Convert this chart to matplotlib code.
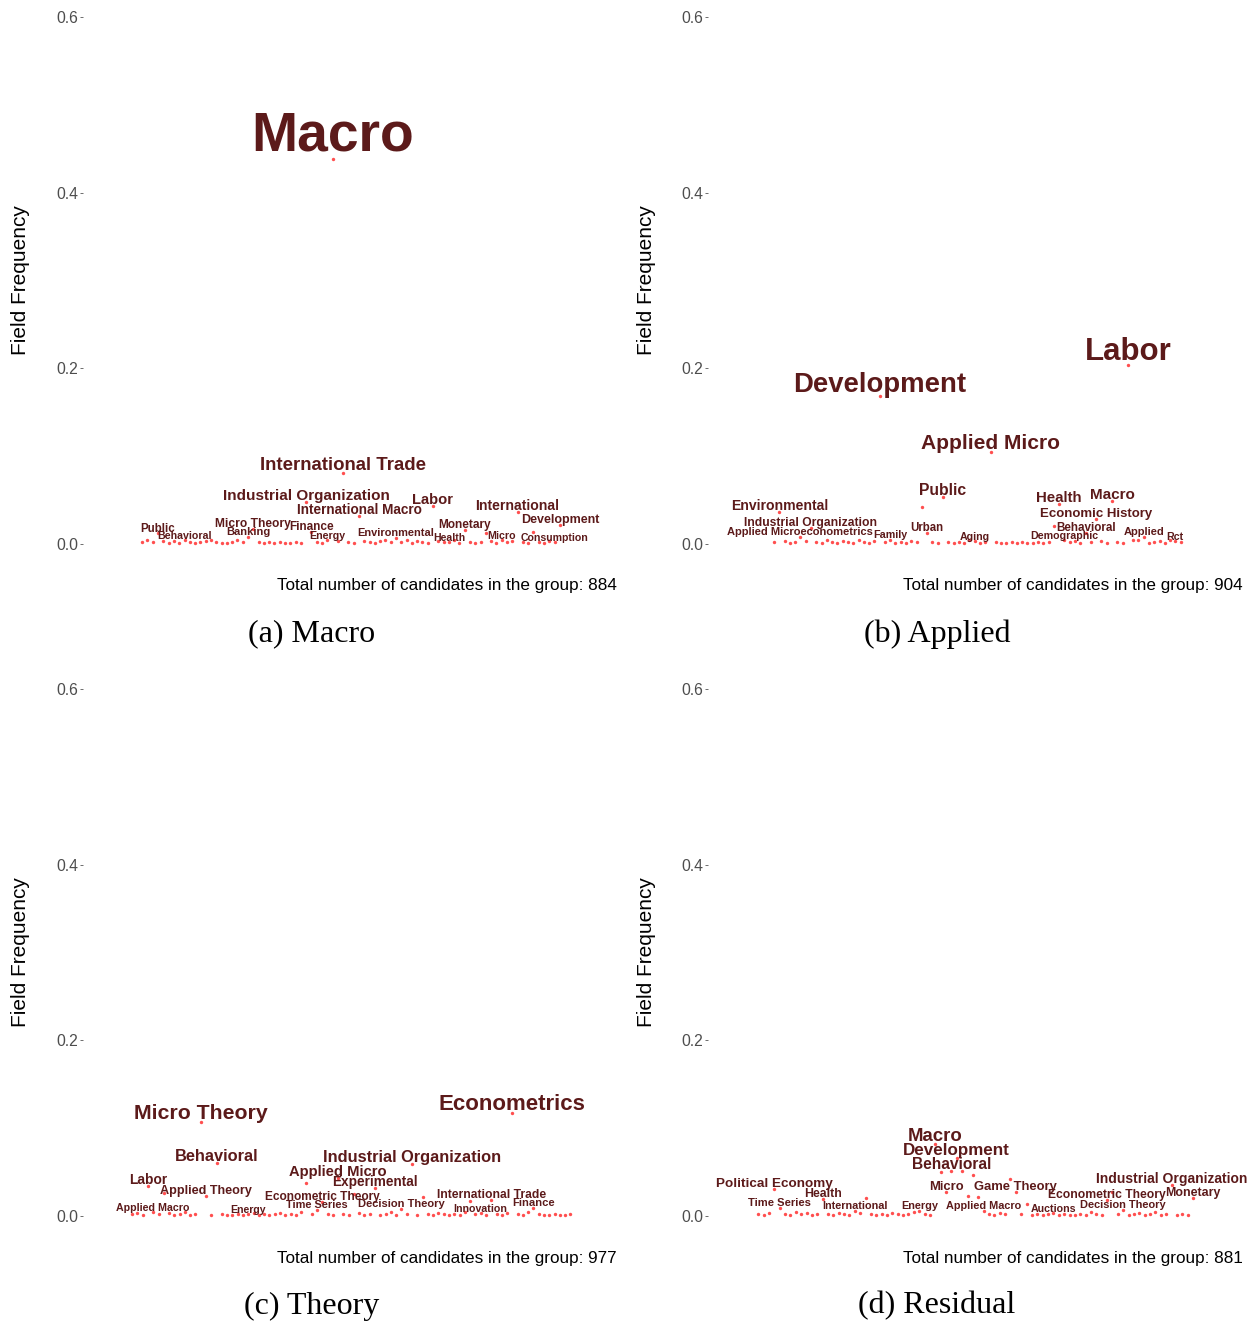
import matplotlib
matplotlib.use("Agg")
import matplotlib.pyplot as plt

# field frequencies in plotting order (x = field index), one list per group
a_freq = [0.002, 0.004, 0.002, 0.012, 0.003, 0.001, 0.003, 0.001, 0.004, 0.002,
          0.001, 0.002, 0.003, 0.005, 0.002, 0.001, 0.001, 0.002, 0.004, 0.002,
          0.008, 0.017, 0.002, 0.001, 0.002, 0.001, 0.002, 0.001, 0.001, 0.002,
          0.001, 0.048, 0.014, 0.002, 0.001, 0.004, 0.438, 0.003, 0.081, 0.002,
          0.001, 0.032, 0.003, 0.002, 0.001, 0.003, 0.005, 0.002, 0.007, 0.002,
          0.004, 0.001, 0.003, 0.002, 0.001, 0.043, 0.003, 0.002, 0.002, 0.004,
          0.001, 0.016, 0.002, 0.001, 0.002, 0.012, 0.003, 0.001, 0.004, 0.002,
          0.003, 0.036, 0.002, 0.001, 0.014, 0.002, 0.001, 0.003, 0.002, 0.022]
a_label_idx = [3, 8, 20, 21, 31, 32, 35, 36, 38, 41, 48, 55, 58, 61, 68, 71, 78, 79]
a_label_txt = ["Public", "Behavioral", "Banking", "Micro Theory", "Industrial Organization",
               "Finance", "Energy", "Macro", "International Trade", "International Macro",
               "Environmental", "Labor", "Health", "Monetary", "Micro", "International",
               "Consumption", "Development"]

b_freq = [0.002, 0.036, 0.003, 0.001, 0.002, 0.008, 0.003, 0.018, 0.002, 0.001,
          0.004, 0.002, 0.001, 0.003, 0.002, 0.001, 0.004, 0.002, 0.001, 0.003,
          0.168, 0.002, 0.005, 0.001, 0.002, 0.001, 0.003, 0.002, 0.042, 0.0125,
          0.002, 0.001, 0.0535, 0.002, 0.001, 0.002, 0.001, 0.004, 0.003, 0.001,
          0.002, 0.105, 0.002, 0.001, 0.001, 0.002, 0.001, 0.002, 0.001, 0.001,
          0.002, 0.001, 0.002, 0.020, 0.0455, 0.004, 0.002, 0.003, 0.001, 0.013,
          0.002, 0.0285, 0.003, 0.001, 0.049, 0.002, 0.001, 0.204, 0.004, 0.005,
          0.008, 0.001, 0.002, 0.003, 0.001, 0.004, 0.003, 0.002]
b_label_idx = [1, 5, 7, 20, 22, 29, 32, 38, 41, 54, 55, 59, 61, 64, 67, 70, 76]
b_label_txt = ["Environmental", "Applied Microeconometrics", "Industrial Organization",
               "Development", "Family", "Urban", "Public", "Aging", "Applied Micro",
               "Health", "Demographic", "Behavioral", "Economic History", "Macro",
               "Labor", "Applied", "Rct"]

c_freq = [0.002, 0.003, 0.001, 0.034, 0.004, 0.002, 0.026, 0.003, 0.001, 0.002,
          0.004, 0.001, 0.002, 0.107, 0.023, 0.001, 0.060, 0.002, 0.001, 0.001,
          0.002, 0.001, 0.002, 0.003, 0.001, 0.002, 0.001, 0.002, 0.003, 0.001,
          0.002, 0.001, 0.004, 0.038, 0.002, 0.007, 0.016, 0.002, 0.001, 0.043,
          0.002, 0.001, 0.025, 0.003, 0.001, 0.002, 0.032, 0.001, 0.002, 0.004,
          0.001, 0.008, 0.002, 0.059, 0.001, 0.022, 0.002, 0.001, 0.003, 0.002,
          0.001, 0.002, 0.001, 0.004, 0.017, 0.002, 0.003, 0.001, 0.018, 0.002,
          0.001, 0.003, 0.117, 0.002, 0.001, 0.004, 0.009, 0.002, 0.001, 0.001,
          0.002, 0.001, 0.001, 0.002]
c_label_idx = [3, 4, 13, 14, 16, 22, 35, 36, 39, 46, 51, 53, 66, 68, 72, 76]
c_label_txt = ["Labor", "Applied Macro", "Micro Theory", "Applied Theory", "Behavioral",
               "Energy", "Time Series", "Econometric Theory", "Applied Micro",
               "Experimental", "Decision Theory", "Industrial Organization",
               "Innovation", "International Trade", "Econometrics", "Finance"]

d_freq = [0.002, 0.001, 0.003, 0.031, 0.009, 0.002, 0.001, 0.004, 0.002, 0.003,
          0.001, 0.002, 0.019, 0.002, 0.001, 0.003, 0.002, 0.001, 0.006, 0.003,
          0.021, 0.002, 0.001, 0.002, 0.001, 0.003, 0.002, 0.001, 0.002, 0.004,
          0.006, 0.002, 0.001, 0.082, 0.050, 0.027, 0.051, 0.066, 0.051, 0.023,
          0.047, 0.022, 0.006, 0.002, 0.001, 0.003, 0.002, 0.042, 0.027, 0.002,
          0.014, 0.001, 0.002, 0.001, 0.002, 0.003, 0.001, 0.002, 0.001, 0.001,
          0.002, 0.001, 0.004, 0.002, 0.001, 0.018, 0.027, 0.002, 0.007, 0.001,
          0.002, 0.003, 0.001, 0.002, 0.004, 0.001, 0.002, 0.035, 0.001, 0.002,
          0.001, 0.021]
d_label_idx = [3, 4, 12, 18, 30, 33, 35, 36, 37, 42, 48, 55, 65, 68, 77, 81]
d_label_txt = ["Political Economy", "Time Series", "Health", "International", "Energy",
               "Macro", "Micro", "Behavioral", "Development", "Applied Macro",
               "Game Theory", "Auctions", "Econometric Theory", "Decision Theory",
               "Industrial Organization", "Monetary"]

group_names = ["(a) Macro", "(b) Applied", "(c) Theory", "(d) Residual"]
group_totals = [884, 904, 977, 881]

W, H = 1253, 1324
TEXT_COL = "#5C1A1A"
POINT_COL = "#FF4F4F"
SANS = ["Liberation Sans", "DejaVu Sans"]


def make_axes(fig, left, right, y0, ylim=(-0.015, 0.615)):
    unit = 527 / 0.6
    top = y0 - ylim[1] * unit
    bottom = y0 - ylim[0] * unit
    ax = fig.add_axes([left / W, 1 - bottom / H, (right - left) / W, (bottom - top) / H])
    ax.set_ylim(*ylim)
    return ax


def draw_panel(ax, freq, label_idx, label_txt, xlim):
    xs = list(range(len(freq)))
    ax.scatter(xs, freq, s=6, color=POINT_COL, linewidths=0, zorder=2)
    for i, name in zip(label_idx, label_txt):
        f = freq[i]
        size = 7.4 + 74 * f
        t = ax.annotate(name, (i, f), xytext=(0, 0.15 * size), textcoords="offset points",
                        ha="center", va="baseline", fontsize=size, fontweight="bold",
                        color=TEXT_COL, family=SANS, zorder=3, annotation_clip=False)
        t.set_clip_on(True)
    ax.set_xlim(*xlim)
    ax.set_yticks([0.0, 0.2, 0.4, 0.6])
    ax.set_yticklabels(["0.0", "0.2", "0.4", "0.6"], family=SANS)
    ax.set_xticks([])
    for s in ax.spines.values():
        s.set_visible(False)
    ax.tick_params(axis="y", length=2.5, width=0.6, color="#555555", pad=1,
                   labelsize=11.3, labelcolor="#4D4D4D")
    ax.patch.set_alpha(0)


fig = plt.figure(figsize=(W / 100, H / 100), dpi=100)

panels = [
    (a_freq, a_label_idx, a_label_txt, 83, 618, 544, (-11.2, 90.0)),
    (b_freq, b_label_idx, b_label_txt, 708, 1244, 544, (-12.5, 89.0)),
    (c_freq, c_label_idx, c_label_txt, 83, 618, 1216, (-9.3, 92.0)),
    (d_freq, d_label_idx, d_label_txt, 708, 1244, 1216, (-9.35, 90.5)),
]
cap_x = [312, 937, 312, 937]
cap_y = [634, 634, 1306, 1306]

for k, (freq, li, lt, left, right, y0, xlim) in enumerate(panels):
    ax = make_axes(fig, left, right, y0)
    draw_panel(ax, freq, li, lt, xlim)
    fig.text((left - 62) / W, 1 - (y0 - 264) / H, "Field Frequency", rotation=90,
             ha="center", va="center", fontsize=15, family=SANS, color="black")
    fig.text((right - 1) / W, 1 - (y0 + 42) / H,
             f"Total number of candidates in the group: {group_totals[k]}",
             ha="right", va="center", fontsize=12.3, family=SANS, color="black")
    fig.text(cap_x[k] / W, 1 - cap_y[k] / H, group_names[k], ha="center", va="center",
             fontsize=23, family=["Liberation Serif", "DejaVu Serif"], color="black")

fig.savefig("out.png", dpi=100)
plt.close(fig)
